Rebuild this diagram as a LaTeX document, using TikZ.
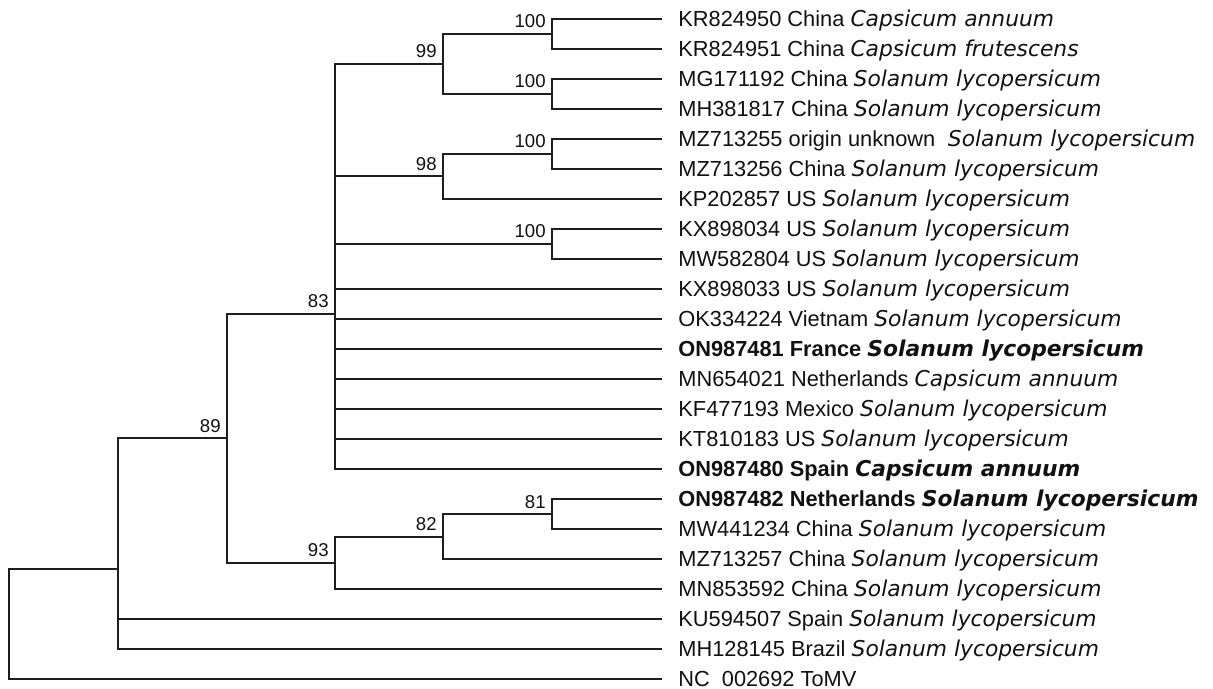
\documentclass[tikz,border=0pt]{standalone}
\usepackage{fontspec}
\setmainfont{Liberation Sans}
\newfontfamily\spfont{DejaVu Sans}
\newcommand{\species}[1]{{\spfont\itshape #1}}
\definecolor{branchink}{HTML}{1E1E1E}
\definecolor{labink}{HTML}{111111}

\begin{document}
\begin{tikzpicture}[x=0.5pt, y=-0.5pt,
  branch/.style={draw=branchink, line width=1pt},
  leaf/.style={anchor=west, inner xsep=8pt, inner ysep=0pt, text height=8.8pt, text depth=1pt,
               font=\fontsize{10.9}{12}\selectfont, text=labink},
  boot/.style={anchor=base east, inner sep=0pt, font=\fontsize{9.3}{11}\selectfont, text=labink,
               xshift=-3pt, yshift=3pt}]
\useasboundingbox (0,0) rectangle (1213,689);

% ---------------- internal nodes
\coordinate (c100a) at (552,34);
\coordinate (c100b) at (552,94);
\coordinate (c99)   at (443,64);
\coordinate (c100c) at (552,154);
\coordinate (c98)   at (443,176.5);
\coordinate (c100d) at (552,244);
\coordinate (c83)   at (335,313.75);
\coordinate (c81)   at (552,514);
\coordinate (c82)   at (443,536.5);
\coordinate (c93)   at (335,562.75);
\coordinate (c89)   at (227,438.25);
\coordinate (cbase) at (118,568.75);
\coordinate (croot) at (9,623.875);

% ---------------- tips
\node[leaf] (kr950) at (662,19)  {KR824950 China \species{Capsicum annuum}};
\node[leaf] (kr951) at (662,49)  {KR824951 China \species{Capsicum frutescens}};
\node[leaf] (mg192) at (662,79)  {MG171192 China \species{Solanum lycopersicum}};
\node[leaf] (mh817) at (662,109) {MH381817 China \species{Solanum lycopersicum}};
\node[leaf] (mz255) at (662,139) {MZ713255 origin unknown\hspace{0.3em} \species{Solanum lycopersicum}};
\node[leaf] (mz256) at (662,169) {MZ713256 China \species{Solanum lycopersicum}};
\node[leaf] (kp857) at (662,199) {KP202857 US \species{Solanum lycopersicum}};
\node[leaf] (kx034) at (662,229) {KX898034 US \species{Solanum lycopersicum}};
\node[leaf] (mw804) at (662,259) {MW582804 US \species{Solanum lycopersicum}};
\node[leaf] (kx033) at (662,289) {KX898033 US \species{Solanum lycopersicum}};
\node[leaf] (ok224) at (662,319) {OK334224 Vietnam \species{Solanum lycopersicum}};
\node[leaf] (on481) at (662,349) {\bfseries ON987481 France \species{Solanum lycopersicum}};
\node[leaf] (mn021) at (662,379) {MN654021 Netherlands \species{Capsicum annuum}};
\node[leaf] (kf193) at (662,409) {KF477193 Mexico \species{Solanum lycopersicum}};
\node[leaf] (kt183) at (662,439) {KT810183 US \species{Solanum lycopersicum}};
\node[leaf] (on480) at (662,469) {\bfseries ON987480 Spain \species{Capsicum annuum}};
\node[leaf] (on482) at (662,499) {\bfseries ON987482 Netherlands \species{Solanum lycopersicum}};
\node[leaf] (mw234) at (662,529) {MW441234 China \species{Solanum lycopersicum}};
\node[leaf] (mz257) at (662,559) {MZ713257 China \species{Solanum lycopersicum}};
\node[leaf] (mn592) at (662,589) {MN853592 China \species{Solanum lycopersicum}};
\node[leaf] (ku507) at (662,619) {KU594507 Spain \species{Solanum lycopersicum}};
\node[leaf] (mh145) at (662,649) {MH128145 Brazil \species{Solanum lycopersicum}};
\node[leaf] (nc692) at (662,679) {NC\hspace{0.55em}002692 ToMV};

% ---------------- branches
\draw[branch] (c100a) |- (kr950.west);
\draw[branch] (c100a) |- (kr951.west);
\draw[branch] (c100b) |- (mg192.west);
\draw[branch] (c100b) |- (mh817.west);
\draw[branch] (c99) |- (c100a);
\draw[branch] (c99) |- (c100b);
\draw[branch] (c100c) |- (mz255.west);
\draw[branch] (c100c) |- (mz256.west);
\draw[branch] (c98) |- (c100c);
\draw[branch] (c98) |- (kp857.west);
\draw[branch] (c100d) |- (kx034.west);
\draw[branch] (c100d) |- (mw804.west);
\draw[branch] (c83) |- (c99);
\draw[branch] (c83) |- (c98);
\draw[branch] (c83) |- (c100d);
\draw[branch] (c83) |- (kx033.west);
\draw[branch] (c83) |- (ok224.west);
\draw[branch] (c83) |- (on481.west);
\draw[branch] (c83) |- (mn021.west);
\draw[branch] (c83) |- (kf193.west);
\draw[branch] (c83) |- (kt183.west);
\draw[branch] (c83) |- (on480.west);
\draw[branch] (c81) |- (on482.west);
\draw[branch] (c81) |- (mw234.west);
\draw[branch] (c82) |- (c81);
\draw[branch] (c82) |- (mz257.west);
\draw[branch] (c93) |- (c82);
\draw[branch] (c93) |- (mn592.west);
\draw[branch] (c89) |- (c83);
\draw[branch] (c89) |- (c93);
\draw[branch] (cbase) |- (c89);
\draw[branch] (cbase) |- (ku507.west);
\draw[branch] (cbase) |- (mh145.west);
\draw[branch] (croot) |- (cbase);
\draw[branch] (croot) |- (nc692.west);

% ---------------- bootstrap values
\node[boot] (b100a) at (c100a) {100};
\node[boot] (b100b) at (c100b) {100};
\node[boot] (b99)   at (c99)   {99};
\node[boot] (b100c) at (c100c) {100};
\node[boot] (b98)   at (c98)   {98};
\node[boot] (b100d) at (c100d) {100};
\node[boot] (b83)   at (c83)   {83};
\node[boot] (b81)   at (c81)   {81};
\node[boot] (b82)   at (c82)   {82};
\node[boot] (b93)   at (c93)   {93};
\node[boot] (b89)   at (c89)   {89};
\end{tikzpicture}
\end{document}
